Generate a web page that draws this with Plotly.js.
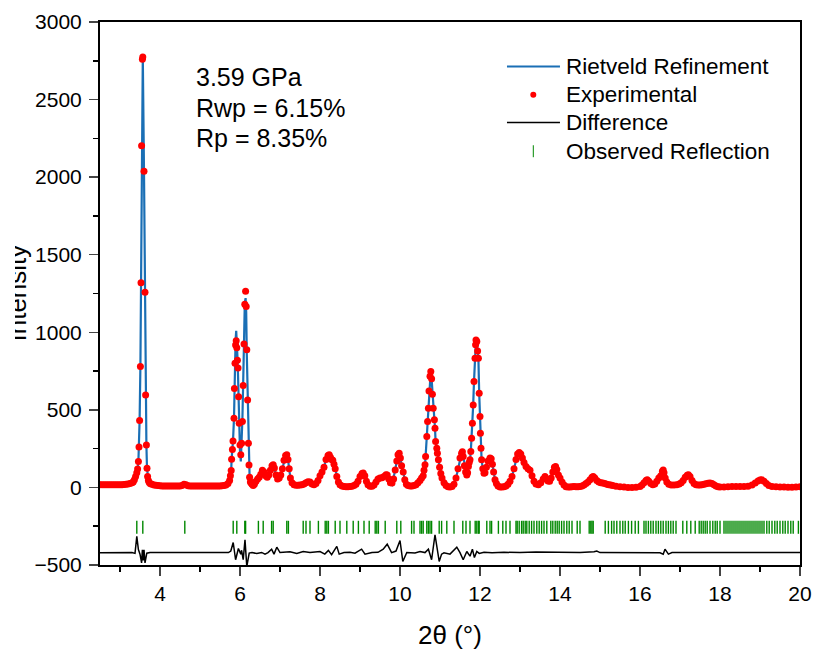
<!DOCTYPE html>
<html>
<head>
<meta charset="utf-8">
<script src="https://cdn.plot.ly/plotly-3.0.1.min.js"></script>
<style>
  html, body { margin: 0; padding: 0; background: #fff; }
  #wrap { position: absolute; left: 15px; top: 0; width: 798px; height: 650px; overflow: hidden; }
  #chart { position: absolute; left: -15px; top: 0; width: 813px; height: 650px; }
</style>
</head>
<body>
<div id="wrap"><div id="chart"></div></div>
<script>
// ---------------- data ----------------
const expX = [
  2.50, 2.55, 2.60, 2.65, 2.70, 2.75, 2.80, 2.85, 2.90, 2.95,
  3.00, 3.05, 3.10, 3.15, 3.20, 3.25, 3.30, 3.33, 3.36, 3.39,
  3.42, 3.44, 3.46, 3.475, 3.49, 3.51, 3.525, 3.54, 3.56, 3.57,
  3.60, 3.625, 3.64, 3.66, 3.675, 3.69, 3.71, 3.73, 3.76, 3.80,
  3.85, 3.90, 3.95, 4.00, 4.05, 4.10, 4.15, 4.20, 4.25, 4.30,
  4.35, 4.40, 4.45, 4.50, 4.55, 4.60, 4.65, 4.70, 4.75, 4.80,
  4.85, 4.90, 4.95, 5.00, 5.05, 5.10, 5.15, 5.20, 5.25, 5.30,
  5.35, 5.40, 5.45, 5.50, 5.55, 5.60, 5.65, 5.70, 5.74, 5.76,
  5.78, 5.79, 5.81, 5.825, 5.85, 5.86, 5.875, 5.89, 5.905, 5.92,
  5.935, 5.95, 5.965, 5.98, 6.00, 6.02, 6.04, 6.06, 6.08, 6.10,
  6.12, 6.14, 6.155, 6.17, 6.19, 6.21, 6.225, 6.24, 6.26, 6.28,
  6.30, 6.33, 6.36, 6.40, 6.44, 6.48, 6.52, 6.56, 6.60, 6.64,
  6.68, 6.72, 6.76, 6.80, 6.83, 6.86, 6.90, 6.94, 6.98, 7.02,
  7.06, 7.10, 7.14, 7.17, 7.20, 7.23, 7.26, 7.30, 7.35, 7.40,
  7.45, 7.50, 7.55, 7.60, 7.65, 7.70, 7.75, 7.80, 7.85, 7.90,
  7.95, 8.00, 8.05, 8.10, 8.15, 8.20, 8.23, 8.26, 8.29, 8.32,
  8.35, 8.38, 8.42, 8.46, 8.50, 8.55, 8.60, 8.65, 8.70, 8.75,
  8.80, 8.85, 8.90, 8.95, 9.00, 9.05, 9.08, 9.12, 9.16, 9.20,
  9.25, 9.30, 9.35, 9.40, 9.45, 9.50, 9.55, 9.60, 9.65, 9.68,
  9.72, 9.76, 9.80, 9.84, 9.88, 9.92, 9.95, 9.98, 10.01, 10.04,
  10.08, 10.12, 10.16, 10.20, 10.25, 10.30, 10.35, 10.40, 10.45, 10.50,
  10.54, 10.58, 10.60, 10.625, 10.64, 10.67, 10.69, 10.71, 10.725, 10.75,
  10.77, 10.79, 10.81, 10.83, 10.86, 10.875, 10.89, 10.92, 10.935, 10.96,
  10.99, 11.02, 11.05, 11.10, 11.15, 11.20, 11.25, 11.30, 11.35, 11.40,
  11.45, 11.50, 11.54, 11.56, 11.58, 11.61, 11.64, 11.67, 11.69, 11.71,
  11.73, 11.75, 11.77, 11.79, 11.81, 11.83, 11.85, 11.875, 11.89, 11.90,
  11.92, 11.94, 11.96, 11.98, 12.00, 12.01, 12.025, 12.04, 12.07, 12.10,
  12.125, 12.16, 12.20, 12.25, 12.28, 12.31, 12.34, 12.375, 12.41, 12.45,
  12.50, 12.55, 12.60, 12.65, 12.70, 12.75, 12.80, 12.85, 12.90, 12.94,
  12.98, 13.02, 13.06, 13.10, 13.15, 13.20, 13.25, 13.30, 13.35, 13.40,
  13.46, 13.52, 13.58, 13.625, 13.66, 13.70, 13.74, 13.78, 13.82, 13.86,
  13.89, 13.92, 13.96, 14.00, 14.05, 14.10, 14.15, 14.20, 14.25, 14.30,
  14.35, 14.40, 14.45, 14.50, 14.55, 14.60, 14.65, 14.70, 14.75, 14.80,
  14.83, 14.87, 14.92, 14.97, 15.02, 15.07, 15.12, 15.17, 15.22, 15.27,
  15.32, 15.40, 15.50, 15.60, 15.70, 15.80, 15.90, 16.00, 16.05, 16.10,
  16.15, 16.18, 16.22, 16.27, 16.32, 16.37, 16.42, 16.47, 16.52, 16.56,
  16.58, 16.60, 16.63, 16.67, 16.72, 16.78, 16.85, 16.92, 16.98, 17.03,
  17.08, 17.13, 17.18, 17.21, 17.25, 17.30, 17.35, 17.40, 17.45, 17.50,
  17.55, 17.60, 17.65, 17.70, 17.75, 17.80, 17.85, 17.90, 17.95, 18.00,
  18.10, 18.20, 18.30, 18.40, 18.50, 18.60, 18.70, 18.80, 18.88, 18.95,
  19.00, 19.04, 19.10, 19.16, 19.22, 19.30, 19.40, 19.50, 19.60, 19.70,
  19.80, 19.90, 20.00
];
const expY = [
  18, 18, 18, 17, 17, 17, 17, 17, 17, 17,
  18, 18, 19, 20, 22, 25, 30, 35, 50, 70,
  95, 118, 167, 260, 431, 779, 1320, 2203, 2760, 2775,
  2038, 1258, 595, 274, 124, 70, 45, 32, 24, 20,
  16, 14, 12, 11, 10, 10, 10, 10, 10, 10,
  10, 10, 10, 10, 12, 20, 18, 11, 10, 9,
  9, 9, 9, 9, 9, 9, 9, 9, 9, 9,
  9, 10, 10, 10, 11, 12, 15, 25, 45, 75,
  109, 182, 245, 300, 446, 637, 801, 918, 945, 900,
  820, 769, 584, 414, 274, 210, 285, 425, 657, 925,
  1181, 1265, 1166, 887, 564, 285, 144, 66, 35, 28,
  20, 12, 20, 40, 55, 65, 85, 110, 100, 75,
  65, 80, 110, 140, 146, 125, 80, 55, 60, 80,
  120, 175, 205, 210, 180, 120, 60, 30, 17, 14,
  14, 15, 18, 22, 30, 36, 35, 22, 18, 25,
  45, 75, 100, 130, 180, 205, 210, 195, 180, 175,
  150, 120, 70, 35, 18, 10, 6, 5, 5, 6,
  8, 12, 20, 40, 70, 90, 93, 75, 40, 18,
  8, 8, 15, 35, 55, 60, 62, 70, 82, 80,
  55, 30, 28, 55, 113, 170, 210, 221, 190, 140,
  100, 50, 20, 12, 10, 10, 12, 18, 30, 45,
  60, 75, 110, 146, 200, 328, 425, 511, 622, 716,
  747, 700, 600, 511, 436, 382, 296, 253, 221, 178,
  130, 90, 60, 30, 12, 5, 3, 6, 20, 60,
  120, 190, 221, 230, 200, 140, 100, 80, 95, 135,
  160, 178, 231, 317, 414, 532, 682, 833, 920, 951,
  940, 880, 833, 607, 457, 350, 253, 178, 120, 92,
  95, 130, 170, 189, 185, 150, 100, 50, 25, 10,
  3, 3, 5, 10, 20, 40, 70, 120, 180, 215,
  225, 215, 190, 160, 135, 120, 110, 75, 40, 22,
  17, 30, 55, 70, 55, 42, 40, 60, 100, 130,
  135, 115, 80, 60, 35, 15, 5, 2, 2, 4,
  6, 5, 4, 6, 10, 15, 25, 35, 50, 65,
  70, 60, 45, 35, 30, 28, 25, 20, 17, 15,
  12, 8, 4, 2, 0, 0, 1, 6, 15, 30,
  45, 49, 40, 25, 17, 22, 40, 60, 75, 105,
  113, 95, 60, 35, 20, 15, 15, 17, 22, 30,
  45, 65, 78, 81, 70, 45, 25, 17, 15, 15,
  17, 20, 24, 27, 28, 25, 18, 10, 5, 2,
  3, 5, 6, 6, 6, 6, 8, 15, 28, 42,
  48, 49, 40, 25, 12, 6, 4, 2, 2, 1,
  1, 3, 5
];
// Rietveld calculated profile, on the same 2θ points as expX
const calcY = [
  18, 18, 18, 17, 17, 17, 17, 17, 17, 17,
  18, 18, 19, 20, 22, 25, 30, 35, 50, 70,
  95, 118, 167, 260, 431, 779, 1320, 2203, 2760, 2775,
  2038, 1258, 595, 274, 124, 70, 45, 32, 24, 20,
  16, 14, 12, 11, 10, 10, 10, 10, 10, 10,
  10, 10, 10, 10, 12, 20, 18, 11, 10, 9,
  9, 9, 9, 9, 9, 9, 9, 9, 9, 9,
  9, 10, 10, 10, 11, 12, 15, 25, 45, 75,
  109, 182, 245, 300, 446, 637, 801, 950, 1010, 960,
  850, 730, 560, 380, 230, 167, 260, 440, 680, 960,
  1190, 1220, 1130, 860, 564, 285, 144, 66, 35, 28,
  20, 12, 20, 40, 55, 65, 85, 110, 100, 75,
  65, 80, 110, 140, 146, 125, 80, 55, 60, 80,
  120, 175, 205, 210, 180, 120, 60, 30, 17, 14,
  14, 15, 18, 22, 30, 36, 35, 22, 18, 25,
  45, 75, 100, 130, 180, 205, 210, 195, 180, 175,
  150, 120, 70, 35, 18, 10, 6, 5, 5, 6,
  8, 12, 20, 40, 70, 90, 93, 75, 40, 18,
  8, 8, 15, 35, 55, 60, 62, 70, 82, 80,
  55, 20, 15, 55, 113, 170, 210, 221, 190, 140,
  100, 50, 20, 12, 10, 10, 12, 18, 30, 45,
  60, 75, 110, 146, 200, 328, 425, 511, 622, 716,
  757, 700, 600, 511, 436, 382, 296, 253, 221, 178,
  130, 90, 60, 30, 12, 5, 3, 6, 20, 60,
  120, 190, 221, 225, 200, 150, 120, 110, 110, 135,
  160, 178, 231, 317, 414, 532, 682, 833, 920, 960,
  940, 880, 833, 607, 457, 350, 253, 178, 120, 92,
  95, 130, 170, 189, 185, 150, 100, 50, 25, 10,
  3, 3, 5, 10, 20, 40, 70, 120, 180, 215,
  225, 215, 190, 160, 135, 120, 110, 75, 40, 22,
  17, 30, 55, 70, 55, 42, 40, 60, 100, 130,
  135, 115, 80, 60, 35, 15, 5, 2, 2, 4,
  6, 5, 4, 6, 10, 15, 25, 35, 50, 65,
  70, 60, 45, 35, 30, 28, 25, 20, 17, 15,
  12, 8, 4, 2, 0, 0, 1, 6, 15, 30,
  45, 49, 40, 25, 17, 22, 40, 60, 75, 105,
  113, 95, 60, 35, 20, 15, 15, 17, 22, 30,
  45, 65, 78, 81, 70, 45, 25, 17, 15, 15,
  17, 20, 24, 27, 28, 25, 18, 10, 5, 2,
  3, 5, 6, 6, 6, 6, 8, 15, 28, 42,
  48, 49, 40, 25, 12, 6, 4, 2, 2, 1,
  1, 3, 5
];
// difference curve (plotted with its offset, as in the figure)
const diffX = [
  2.5, 3.3, 3.375, 3.42, 3.46, 3.5, 3.54, 3.56, 3.58, 3.6,
  3.625, 3.65, 3.67, 3.75, 5.6, 5.71, 5.77, 5.83, 5.89, 5.96,
  6.02, 6.04, 6.08, 6.125, 6.17, 6.23, 6.3, 6.42, 6.54, 6.625,
  6.7, 6.79, 6.85, 6.92, 7.0, 7.1, 7.25, 7.42, 7.58, 7.75,
  7.88, 8.0, 8.12, 8.21, 8.29, 8.42, 8.48, 8.6, 8.75, 8.875,
  9.04, 9.125, 9.3, 9.45, 9.58, 9.68, 9.79, 9.9, 10.0, 10.07,
  10.17, 10.375, 10.5, 10.625, 10.71, 10.79, 10.875, 10.98, 11.04, 11.1,
  11.25, 11.42, 11.5, 11.58, 11.67, 11.75, 11.81, 11.86, 11.92, 11.98,
  12.1, 12.3, 12.6, 13.0, 13.4, 13.9, 14.5, 14.85, 14.92, 15.0,
  15.6, 16.2, 16.5, 16.58, 16.625, 16.71, 16.8, 17.2, 18.0, 19.0,
  20.0
];
const diffY = [
  -421, -420, -425, -316, -400, -430, -486, -402, -470, -402,
  -486, -430, -424, -420, -420, -420, -410, -355, -466, -394,
  -430, -405, -466, -338, -510, -423, -420, -426, -419, -430,
  -420, -398, -430, -385, -420, -418, -415, -426, -413, -420,
  -418, -413, -430, -406, -434, -380, -430, -420, -418, -424,
  -398, -430, -420, -418, -398, -366, -420, -410, -342, -477,
  -419, -422, -413, -420, -398, -466, -305, -477, -430, -421,
  -430, -385, -420, -466, -413, -443, -398, -452, -413, -425,
  -418, -421, -418, -420, -417, -420, -419, -415, -410, -420,
  -420, -419, -421, -430, -398, -430, -420, -419, -420, -421,
  -420
];
// reflection positions (2θ, °)
const reflX = [
  3.42, 3.57, 4.62, 5.83, 5.92, 6.12, 6.14, 6.46, 6.58, 6.79,
  6.83, 7.17, 7.21, 7.58, 7.65, 7.75, 7.96, 8.13, 8.17, 8.21,
  8.38, 8.50, 8.67, 8.83, 8.96, 9.10, 9.23, 9.38, 9.42, 9.46,
  9.63, 9.92, 10.02, 10.29, 10.35, 10.50, 10.54, 10.58, 10.67, 10.71,
  10.75, 10.79, 10.98, 11.04, 11.17, 11.35, 11.57, 11.65, 11.75, 11.88,
  11.92, 11.96, 11.98, 12.17, 12.25, 12.29, 12.46, 12.57, 12.65, 12.75,
  12.90, 12.93, 12.98, 13.04, 13.08, 13.13, 13.17, 13.23, 13.29, 13.35,
  13.42, 13.48, 13.54, 13.60, 13.67, 13.77, 13.82, 13.88, 13.93, 13.98,
  14.04, 14.10, 14.17, 14.23, 14.30, 14.43, 14.50, 14.73, 14.77, 14.80,
  14.83, 15.13, 15.21, 15.29, 15.35, 15.42, 15.50, 15.57, 15.63, 15.71,
  15.79, 15.88, 15.96, 16.10, 16.15, 16.21, 16.27, 16.33, 16.40, 16.46,
  16.52, 16.58, 16.65, 16.71, 16.77, 16.83, 16.90, 17.07, 17.17, 17.27,
  17.38, 17.48, 17.53, 17.58, 17.63, 17.68, 17.75, 17.82, 17.88, 17.93,
  18.00, 18.10, 18.15, 18.20, 18.25, 18.30, 18.35, 18.40, 18.45, 18.50,
  18.55, 18.60, 18.65, 18.70, 18.75, 18.80, 18.85, 18.90, 18.95, 19.00,
  19.05, 19.10, 19.17, 19.23, 19.30, 19.37, 19.43, 19.50, 19.57, 19.63,
  19.70, 19.77, 19.83, 19.96
];
const reflLevel = -257;   // vertical position of the reflection-tick row

const legendNames = ["Rietveld Refinement", "Experimental", "Difference", "Observed Reflection"];
const infoLines = ["3.59 GPa", "Rwp = 6.15%", "Rp = 8.35%"];
const xTitle = "2θ (°)";
const yTitle = "Intensity";

// ---------------- colours / styles ----------------
const FONT = "Arial, 'Liberation Sans', sans-serif";
const C_CALC = "#1a6fb5", C_EXP = "#ff0000", C_DIFF = "#000000", C_REFL = "#008800";

const traces = [
  { x: expX, y: calcY, type: "scatter", mode: "lines", name: legendNames[0],
    line: { color: C_CALC, width: 2.2 } },
  { x: expX, y: expY, type: "scatter", mode: "markers", name: legendNames[1],
    marker: { color: C_EXP, size: 7 } },
  { x: diffX, y: diffY, type: "scatter", mode: "lines", name: legendNames[2],
    line: { color: C_DIFF, width: 1.5 } },
  { x: reflX, y: reflX.map(() => reflLevel), type: "scatter", mode: "markers", name: legendNames[3],
    marker: { symbol: "line-ns-open", size: 9.3, color: C_REFL, line: { color: C_REFL, width: 1.4 } } }
];

// legend drawn as paper-anchored keys + labels (rows placed like the figure's legend box)
const legRowY = [0.918, 0.866, 0.815, 0.762];
const legKeyX0 = 0.5814, legKeyX1 = 0.6571, legKeyXc = 0.619, legTextX = 0.663;
const shapes = [
  { type: "line", xref: "paper", yref: "paper", x0: legKeyX0, x1: legKeyX1, y0: legRowY[0], y1: legRowY[0],
    line: { color: C_CALC, width: 2 } },
  { type: "circle", xref: "paper", yref: "paper", x0: legKeyXc - 0.0043, x1: legKeyXc + 0.0043,
    y0: legRowY[1] - 0.0055, y1: legRowY[1] + 0.0055, fillcolor: C_EXP, line: { width: 0 } },
  { type: "line", xref: "paper", yref: "paper", x0: legKeyX0, x1: legKeyX1, y0: legRowY[2], y1: legRowY[2],
    line: { color: C_DIFF, width: 1.5 } },
  { type: "line", xref: "paper", yref: "paper", x0: legKeyXc, x1: legKeyXc, y0: legRowY[3] - 0.011, y1: legRowY[3] + 0.011,
    line: { color: C_REFL, width: 1 } }
];
const annotations = legendNames.map((t, i) => ({
  xref: "paper", yref: "paper", x: legTextX, y: legRowY[i], xanchor: "left", yanchor: "middle",
  showarrow: false, text: t, font: { size: 22.5, family: FONT, color: "#000" }
}));
const infoY = [0.8987, 0.8407, 0.7855];
infoLines.forEach((t, i) => annotations.push({
  xref: "paper", yref: "paper", x: 0.134, y: infoY[i], xanchor: "left", yanchor: "middle",
  showarrow: false, text: t, font: { size: 25, family: FONT, color: "#000" }
}));
annotations.push({ xref: "paper", yref: "paper", x: -0.12, y: 0.5, xanchor: "center", yanchor: "middle",
  textangle: -90, showarrow: false, text: yTitle, font: { size: 26, family: FONT, color: "#000" } });

const layout = {
  width: 813, height: 650,
  margin: { l: 100, r: 13, t: 22, b: 85 },
  paper_bgcolor: "#ffffff", plot_bgcolor: "#ffffff",
  font: { family: FONT, color: "#000", size: 21 },
  showlegend: false,
  xaxis: {
    range: [2.5, 20], tick0: 0, dtick: 2, ticks: "outside", ticklen: 9, tickwidth: 1.5,
    showline: true, linewidth: 2, linecolor: "#000", mirror: true,
    showgrid: false, zeroline: false, tickfont: { size: 21 },
    minor: { dtick: 1, ticks: "outside", ticklen: 5, tickwidth: 1.5, tickcolor: "#000" },
    title: { text: xTitle, font: { size: 26 }, standoff: 22 }
  },
  yaxis: {
    range: [-500, 3000], tick0: 0, dtick: 500, ticks: "outside", ticklen: 9, tickwidth: 1.5,
    showline: true, linewidth: 2, linecolor: "#000", mirror: true,
    showgrid: false, zeroline: false, tickfont: { size: 21 }, ticklabelstandoff: 3,
    minor: { dtick: 250, ticks: "outside", ticklen: 5, tickwidth: 1.5, tickcolor: "#000" }
  },
  shapes: shapes,
  annotations: annotations
};

Plotly.newPlot("chart", traces, layout, { displayModeBar: false, staticPlot: true });
</script>
</body>
</html>
